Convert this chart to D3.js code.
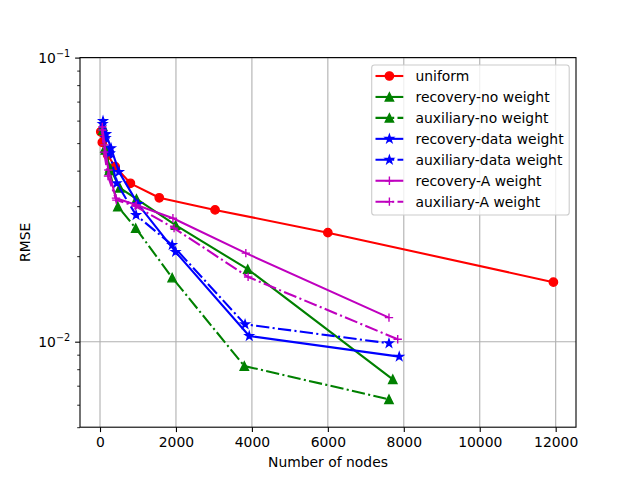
<!DOCTYPE html>
<html><head><meta charset="utf-8">
<script src="https://cdn.jsdelivr.net/npm/d3@7"></script>
<style>body{margin:0;background:#fff}svg{display:block;font-family:"DejaVu Sans",sans-serif}</style>
</head><body>
<svg id="c" width="640" height="480"></svg>
<script>
const uniformX = [20, 60, 200, 400, 800, 1560, 3030, 6000, 11940];
const uniformY = [0.0548, 0.0503, 0.0454, 0.0413, 0.0361, 0.0321, 0.0291, 0.0242, 0.0162];
const recNoX = [75, 140, 260, 520, 960, 1990, 3890, 7710];
const recNoY = [0.0556, 0.0473, 0.0409, 0.0348, 0.0318, 0.0257, 0.0180, 0.00737];
const auxNoX = [70, 130, 250, 470, 940, 1900, 3800, 7610];
const auxNoY = [0.0574, 0.0480, 0.0402, 0.0299, 0.0251, 0.0168, 0.00821, 0.00627];
const recDataX = [80, 160, 290, 500, 1000, 1990, 3930, 7880];
const recDataY = [0.0598, 0.0538, 0.0480, 0.0396, 0.0305, 0.0207, 0.01047, 0.00886];
const auxDataX = [70, 150, 260, 440, 950, 1900, 3820, 7610];
const auxDataY = [0.0584, 0.0521, 0.0461, 0.0361, 0.0279, 0.0219, 0.01151, 0.00987];
const recAX = [60, 120, 220, 420, 960, 1920, 3840, 7610];
const recAY = [0.0570, 0.0493, 0.0402, 0.0320, 0.0303, 0.0272, 0.0205, 0.01215];
const auxAX = [55, 110, 210, 430, 930, 1950, 3900, 7840];
const auxAY = [0.0556, 0.0465, 0.0383, 0.0315, 0.0300, 0.0251, 0.0169, 0.0102];
const seriesNames = ["uniform","recovery-no weight","auxiliary-no weight","recovery-data weight","auxiliary-data weight","recovery-A weight","auxiliary-A weight"];
const xTicks = [0, 2000, 4000, 6000, 8000, 10000, 12000];
const yTicks = [0.01, 0.1];
const yTickLabels = [["10","\u22122"],["10","\u22121"]];
const xLabel = "Number of nodes";
const yLabel = "RMSE";

const series = [
  {name: seriesNames[0], xs: uniformX, ys: uniformY, color: "#ff0000", dash: null, marker: "circle"},
  {name: seriesNames[1], xs: recNoX, ys: recNoY, color: "#008000", dash: null, marker: "tri"},
  {name: seriesNames[2], xs: auxNoX, ys: auxNoY, color: "#008000", dash: "13.3,3.3,2.1,3.3", marker: "tri"},
  {name: seriesNames[3], xs: recDataX, ys: recDataY, color: "#0000ff", dash: null, marker: "star"},
  {name: seriesNames[4], xs: auxDataX, ys: auxDataY, color: "#0000ff", dash: "13.3,3.3,2.1,3.3", marker: "star"},
  {name: seriesNames[5], xs: recAX, ys: recAY, color: "#bf00bf", dash: null, marker: "plus"},
  {name: seriesNames[6], xs: auxAX, ys: auxAY, color: "#bf00bf", dash: "13.3,3.3,2.1,3.3", marker: "plus"}
];

const L = 80, R = 576, T = 57.6, B = 427.2;
const x = d3.scaleLinear().domain([-527, 12535]).range([L, R]);
const y = d3.scaleLog().domain([0.005, 0.1]).range([B, T]);
const svg = d3.select("#c");

// grid
const g = svg.append("g");
g.selectAll(".gx").data(xTicks).join("line")
  .attr("x1", d => x(d)).attr("x2", d => x(d)).attr("y1", T).attr("y2", B)
  .attr("stroke", "#b0b0b0").attr("stroke-width", 1.1);
g.selectAll(".gy").data(yTicks).join("line")
  .attr("x1", L).attr("x2", R).attr("y1", d => y(d)).attr("y2", d => y(d))
  .attr("stroke", "#b0b0b0").attr("stroke-width", 1.1);

// markers
const S = 8.33;
function markerPath(type) {
  const p = d3.path();
  const h = S / 2;
  if (type === "circle") { p.arc(0, 0, h, 0, 2 * Math.PI); }
  else if (type === "tri") { p.moveTo(0, -h); p.lineTo(-h, h); p.lineTo(h, h); p.closePath(); }
  else if (type === "star") {
    const inner = 0.381966 * h;
    for (let i = 0; i < 10; i++) {
      const r = i % 2 === 0 ? h : inner;
      const a = -Math.PI / 2 + i * Math.PI / 5;
      if (i === 0) p.moveTo(r * Math.cos(a), r * Math.sin(a)); else p.lineTo(r * Math.cos(a), r * Math.sin(a));
    }
    p.closePath();
  } else if (type === "plus") { p.moveTo(-h, 0); p.lineTo(h, 0); p.moveTo(0, -h); p.lineTo(0, h); }
  return p.toString();
}

const clip = svg.append("clipPath").attr("id", "clip").append("rect")
  .attr("x", L).attr("y", T).attr("width", R - L).attr("height", B - T);
const plot = svg.append("g").attr("clip-path", "url(#clip)");
const line = d3.line().x(d => x(d[0])).y(d => y(d[1]));
series.forEach(s => {
  const pts = s.xs.map((v, i) => [v, s.ys[i]]);
  const sg = plot.append("g");
  sg.append("path").attr("d", line(pts)).attr("fill", "none").attr("stroke", s.color)
    .attr("stroke-width", 2.08).attr("stroke-dasharray", s.dash).attr("stroke-linejoin", "round");
  sg.selectAll("path.m").data(pts).join("path").attr("class", "m")
    .attr("d", markerPath(s.marker)).attr("transform", d => `translate(${x(d[0])},${y(d[1])})`)
    .attr("fill", s.marker === "plus" ? "none" : s.color).attr("stroke", s.color).attr("stroke-width", 1.39);
});

// spines
svg.append("rect").attr("x", L).attr("y", T).attr("width", R - L).attr("height", B - T)
  .attr("fill", "none").attr("stroke", "#000").attr("stroke-width", 1.1);

// x axis
const xa = svg.append("g").attr("transform", `translate(0,${B})`)
  .call(d3.axisBottom(x).tickValues(xTicks).tickSize(4.9).tickPadding(4.9).tickFormat(d3.format("d")));
xa.select(".domain").remove();
xa.selectAll("line").attr("stroke-width", 1.1);
xa.selectAll("text").attr("font-size", 13.9).attr("fill", "#000").attr("font-family", "DejaVu Sans");

// y axis
const minor = [];
for (let k = 5; k <= 9; k++) minor.push(k * 0.001);
for (let k = 2; k <= 9; k++) minor.push(k * 0.01);
const ya = svg.append("g").attr("transform", `translate(${L},0)`)
  .call(d3.axisLeft(y).tickValues(minor).tickSize(2.8).tickFormat(""));
ya.select(".domain").remove();
ya.selectAll("line").attr("stroke-width", 0.85);
const yb = svg.append("g").attr("transform", `translate(${L},0)`)
  .call(d3.axisLeft(y).tickValues(yTicks).tickSize(4.9).tickFormat(""));
yb.select(".domain").remove();
yb.selectAll("line").attr("stroke-width", 1.1);
yTicks.forEach((t, i) => {
  const tx = svg.append("text").attr("x", L - 9.8).attr("y", y(t) + 5)
    .attr("text-anchor", "end").attr("font-size", 13.9).attr("fill", "#000");
  tx.append("tspan").text(yTickLabels[i][0]);
  tx.append("tspan").attr("dy", -6).attr("font-size", 9.7).text(yTickLabels[i][1]);
});

// axis labels
svg.append("text").attr("x", (L + R) / 2).attr("y", 467).attr("text-anchor", "middle")
  .attr("font-size", 13.9).text(xLabel);
svg.append("text").attr("transform", `translate(30,${(T + B) / 2}) rotate(-90)`).attr("text-anchor", "middle")
  .attr("font-size", 13.9).text(yLabel);

// legend
const lg = svg.append("g");
lg.append("rect").attr("x", 371.7).attr("y", 65).attr("width", 197.5).attr("height", 150).attr("rx", 2.8)
  .attr("fill", "#fff").attr("fill-opacity", 0.8).attr("stroke", "#cccccc").attr("stroke-width", 1.1);
series.forEach((s, i) => {
  const cy = 76 + i * 20.95;
  lg.append("line").attr("x1", 375.5).attr("x2", 403.3).attr("y1", cy).attr("y2", cy)
    .attr("stroke", s.color).attr("stroke-width", 2.08).attr("stroke-dasharray", s.dash);
  lg.append("path").attr("d", markerPath(s.marker)).attr("transform", `translate(389.4,${cy})`)
    .attr("fill", s.marker === "plus" ? "none" : s.color).attr("stroke", s.color).attr("stroke-width", 1.39);
  lg.append("text").attr("x", 415.5).attr("y", cy + 4.9).attr("font-size", 13.9).attr("fill", "#000").text(s.name);
});
</script>
</body></html>
